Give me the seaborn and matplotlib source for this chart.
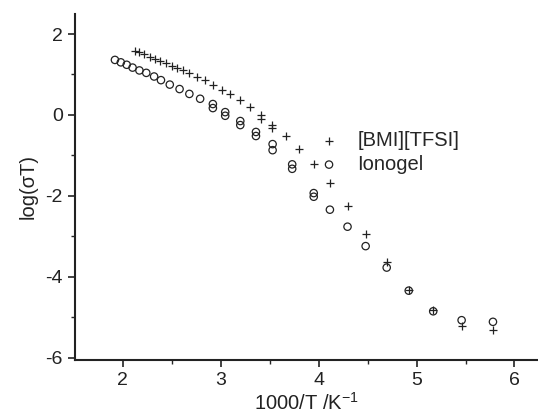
import matplotlib
matplotlib.use("Agg")
import matplotlib.pyplot as plt
import seaborn as sns
import pandas as pd
from matplotlib.ticker import MultipleLocator

bmi_x = [2.12, 2.17, 2.22, 2.28, 2.33, 2.38, 2.44, 2.50, 2.55, 2.62, 2.68, 2.76, 2.84,
         2.92, 3.01, 3.10, 3.20, 3.30, 3.415, 3.415, 3.52, 3.52, 3.67, 3.80, 3.955,
         4.115, 4.295, 4.48, 4.695, 4.92, 5.17, 5.46, 5.78]
bmi_y = [1.59, 1.56, 1.50, 1.44, 1.38, 1.33, 1.28, 1.22, 1.16, 1.10, 1.04, 0.94, 0.86,
         0.74, 0.61, 0.51, 0.37, 0.19, -0.01, -0.11, -0.24, -0.33, -0.52, -0.84, -1.21,
         -1.68, -2.25, -2.94, -3.62, -4.32, -4.83, -5.21, -5.32]

iono_x = [1.92, 1.98, 2.04, 2.10, 2.17, 2.24, 2.32, 2.39, 2.48, 2.58, 2.68, 2.79,
          2.92, 2.92, 3.046, 3.046, 3.20, 3.20, 3.36, 3.36, 3.53, 3.53, 3.73, 3.73,
          3.95, 3.95, 4.115, 4.295, 4.48, 4.695, 4.92, 5.17, 5.46, 5.78]
iono_y = [1.36, 1.30, 1.24, 1.17, 1.10, 1.04, 0.95, 0.86, 0.75, 0.64, 0.52, 0.40,
          0.27, 0.17, 0.07, -0.02, -0.15, -0.25, -0.42, -0.52, -0.72, -0.87, -1.22, -1.33,
          -1.93, -2.02, -2.34, -2.76, -3.24, -3.77, -4.34, -4.85, -5.07, -5.11]

series_names = ["[BMI][TFSI]", "Ionogel"]

df = pd.concat([
    pd.DataFrame({"x": bmi_x, "y": bmi_y, "s": series_names[0]}),
    pd.DataFrame({"x": iono_x, "y": iono_y, "s": series_names[1]}),
])

sns.set_style("ticks")
plt.rcParams["font.family"] = ["Liberation Sans", "DejaVu Sans"]
plt.rcParams["axes.unicode_minus"] = False

fig = plt.figure(figsize=(5.38, 4.17), dpi=100)
ax = fig.add_axes([0.139, 0.137, 0.861, 0.83])

sns.scatterplot(data=df[df.s == series_names[0]], x="x", y="y", marker="+",
                color="#222222", s=36, linewidth=0.9, ax=ax, label=series_names[0])
sns.scatterplot(data=df[df.s == series_names[1]], x="x", y="y", marker="o",
                facecolor="none", edgecolor="#222222", s=28, linewidth=0.9, ax=ax,
                label=series_names[1])

ax.set_xlim(1.51, 6.24)
ax.set_ylim(-6.05, 2.5)
ax.xaxis.set_major_locator(MultipleLocator(1))
ax.xaxis.set_minor_locator(MultipleLocator(0.5))
ax.yaxis.set_major_locator(MultipleLocator(2))
ax.yaxis.set_minor_locator(MultipleLocator(1))
ax.tick_params(which="major", length=5, width=1.2, labelsize=14, colors="#222222")
ax.tick_params(which="minor", length=3, width=1.0)
for side in ["top", "right"]:
    ax.spines[side].set_visible(False)
for side in ["left", "bottom"]:
    ax.spines[side].set_linewidth(1.5)
    ax.spines[side].set_color("#222222")

ax.set_xlabel("1000/T /K$^{\\mathregular{-1}}$", fontsize=14.5, labelpad=2, color="#222222")
ax.set_ylabel("log(σT)", fontsize=14.5, labelpad=6, color="#222222")

ax.legend(loc="upper left", bbox_to_anchor=(0.488, 0.685), frameon=False, fontsize=14.5,
          handletextpad=0.4, labelspacing=0.25, borderaxespad=0)

fig.savefig("out.png", dpi=100)
